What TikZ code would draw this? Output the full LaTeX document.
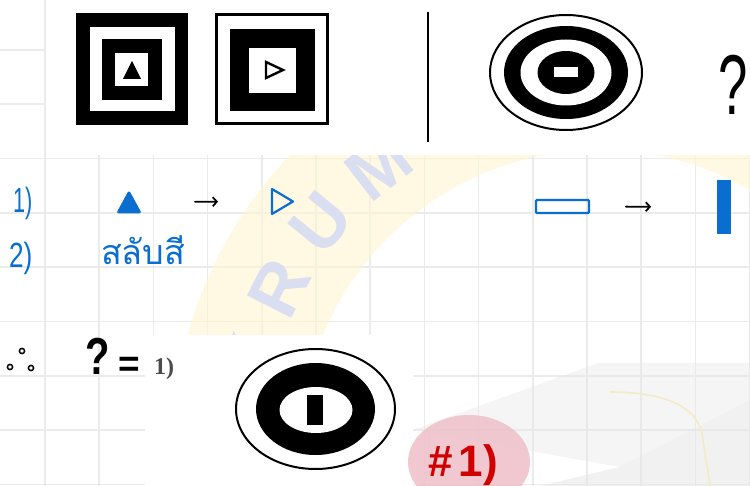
\documentclass[tikz,border=0pt]{standalone}
\usepackage{fontspec}
\setmainfont{Liberation Sans}
\newfontfamily\thaifont[Script=Thai]{Loma}
\newfontfamily\scanserif{Liberation Serif}
\usetikzlibrary{arrows.meta,decorations.text}
\definecolor{penblue}{HTML}{0A6ED1}
\definecolor{penred}{HTML}{D00000}
\definecolor{gridgray}{HTML}{EBEBEB}
\definecolor{wmyellow}{HTML}{FFF4CF}
\definecolor{wmletter}{HTML}{D9DEF1}
\definecolor{capgray}{HTML}{E6E6E6}
\definecolor{tasselcol}{HTML}{F3EBC6}
\definecolor{pinkspot}{HTML}{EFBFC8}
\definecolor{scangray}{HTML}{4A4A4A}
\tikzset{
  gridline/.style={draw=gridgray, line width=1.6pt},
  pentext/.style={text=penblue, inner sep=0pt},
  handarrow/.style={draw=black, line width=1.8pt, line cap=round, -{Straight Barb[length=4pt,width=9pt,line width=1.8pt]}},
  holder/.style={inner sep=0pt, outer sep=0pt},
}
\begin{document}
\begin{tikzpicture}[x=1pt,y=-1pt]
\useasboundingbox (0,0) rectangle (750,486);
\fill[white] (0,0) rectangle (750,486);
% grid paper
\foreach \i in {0,...,13} \draw[gridline] ({45+54.2*\i},0) -- ++(0,486);
\foreach \j in {0,...,8} \draw[gridline] (0,{50+54.3*\j}) -- ++(750,0);
% watermark ring with letters
\coordinate (wmc) at (600,450);
\fill[wmyellow, opacity=0.6, even odd rule] (wmc) circle (428) (wmc) circle (300);
\path[decorate, decoration={text along path, text color=wmletter,
   text={|\bfseries\fontsize{72}{72}\selectfont|K R U M}}]
   (wmc) ++(190:335) arc [start angle=190, end angle=245, radius=335];
% graduation cap watermark
\fill[capgray, opacity=0.4] (413,430) -- (598,363) -- (750,363) -- (750,400) -- (620,467) -- cycle;
\fill[capgray, opacity=0.55] (540,486) -- (620,467) -- (750,400) -- (750,486) -- cycle;
\draw[tasselcol, line width=1.6pt] (610,392) .. controls (655,392) and (700,402) .. (703,440) -- (710,486);
% scanned pictures (white backgrounds)
\fill[white] (46,0) rectangle (750,155);
\fill[white] (145,335) rectangle (413,486);
% square 1
\fill[black] (76,13) rectangle (188,125);
\fill[white] (90,27) rectangle (175,111);
\fill[black] (102,39) rectangle (162,100);
\fill[white] (115,53) rectangle (148,86);
\fill[black] (123,79) -- (132,61) -- (141,79) -- cycle;
% square 2
\draw[line width=2.5pt] (216.5,14.5) rectangle (327.5,123.5);
\fill[black] (230,29) rectangle (315,111);
\fill[white] (249,48) rectangle (296,93);
\draw[line width=2.4pt, line join=miter] (266,62) -- (283,70) -- (266,78) -- cycle;
% divider
\draw[line width=2pt] (428,12) -- (428,142);
% target 1
\draw[line width=2pt] (566,72.5) ellipse [x radius=76, y radius=57.5];
\fill[black] (566,72.5) ellipse [x radius=62, y radius=46.5];
\fill[white] (566,72.5) ellipse [x radius=45.5, y radius=33];
\fill[black] (566,72.5) ellipse [x radius=28.5, y radius=21.5];
\fill[white] (554,67) rectangle (578,77);
\node[inner sep=0pt, anchor=base, xscale=0.62, font=\fontsize{85}{85}\selectfont] (qmark) at (733,115) {?};
% row 1
\node[pentext, anchor=base west, xscale=0.62, font=\fontsize{35}{35}\selectfont] (lab1) at (13,213) {1)};
\node[holder, minimum width=24pt, minimum height=22pt] (triA) at (129,202) {};
\fill[penblue, draw=penblue, line width=1pt, rounded corners=2pt] (triA.south west) -- (triA.north) -- (triA.south east) -- cycle;
\node[holder, minimum width=21pt, minimum height=25pt] (triB) at (282.5,201.5) {};
\draw[penblue, line width=2.2pt, line join=round] (triB.north west) -- (triB.east) -- (triB.south west) -- cycle;
\draw[handarrow, shorten <=54pt, shorten >=54pt] (triA.east) -- (triB.west);
\node[holder, draw=penblue, line width=2.2pt, rounded corners=1pt, minimum width=53pt, minimum height=13pt] (rectA) at (562.5,206.5) {};
\node[holder, fill=penblue, minimum width=14pt, minimum height=54pt] (barB) at (724,207) {};
\draw[handarrow, yshift=3.5pt, shorten <=37pt, shorten >=66pt] (rectA.east) -- (barB.west);
% row 2
\node[pentext, anchor=base west, xscale=0.75, font=\fontsize{35}{35}\selectfont] (lab2) at (9,268) {2)};
\node[pentext, anchor=base west, font=\thaifont\fontsize{34}{34}\selectfont] (swap) at (101,265) {สลับสี};
% conclusion row
\draw[line width=1.5pt] (22,351) circle (2.6) (10,367) circle (2.6) (31,368) circle (2.6);
\node[inner sep=0pt, anchor=base, xscale=0.77, font=\bfseries\fontsize{52}{52}\selectfont] (qans) at (98,375) {?};
\node[inner sep=0pt, anchor=base, font=\bfseries\fontsize{37}{37}\selectfont] (eqs) at (129,377) {=};
\node[inner sep=0pt, anchor=base west, text=scangray, font=\scanserif\bfseries\fontsize{24}{24}\selectfont] (ans) at (154,374) {1)};
% answer figure
\draw[line width=2pt] (315.5,409) ellipse [x radius=79.5, y radius=60];
\fill[black] (315.5,409) ellipse [x radius=59.5, y radius=46];
\fill[white] (316,410) ellipse [x radius=36.5, y radius=23];
\fill[black] (307,395) rectangle (323,425);
% highlighted answer
\fill[pinkspot, opacity=0.85] (469,462) ellipse [x radius=61, y radius=47];
\node[inner sep=0pt, anchor=base west, text=penred, font=\bfseries\fontsize{44}{44}\selectfont] (final) at (428,476) {\#\kern6pt1)};
\end{tikzpicture}
\end{document}
